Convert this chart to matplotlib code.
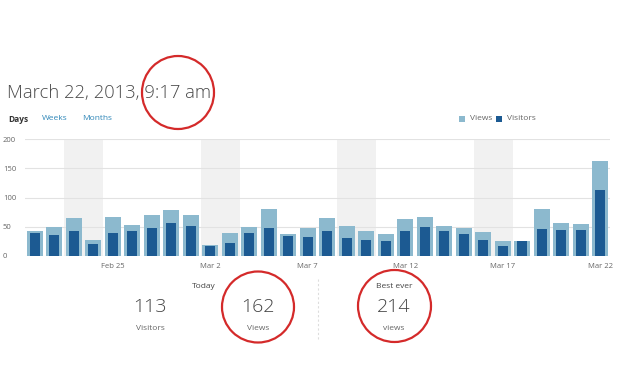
import matplotlib
matplotlib.use("Agg")
import matplotlib.pyplot as plt
from matplotlib.patches import Ellipse, Rectangle
import numpy as np

plt.rcParams['font.family'] = ['Open Sans', 'DejaVu Sans']

# Data
days = ["Feb 21", "Feb 22", "Feb 23", "Feb 24", "Feb 25", "Feb 26", "Feb 27", "Feb 28",
        "Mar 1", "Mar 2", "Mar 3", "Mar 4", "Mar 5", "Mar 6", "Mar 7", "Mar 8", "Mar 9",
        "Mar 10", "Mar 11", "Mar 12", "Mar 13", "Mar 14", "Mar 15", "Mar 16", "Mar 17",
        "Mar 18", "Mar 19", "Mar 20", "Mar 21", "Mar 22"]
views = [42, 49, 65, 27, 67, 53, 70, 79, 70, 18, 40, 50, 81, 38, 48, 65, 52, 43, 37, 63,
         66, 52, 48, 41, 25, 26, 81, 56, 55, 162]
visitors = [39, 36, 43, 21, 40, 42, 48, 57, 51, 17, 22, 39, 48, 34, 33, 43, 31, 27, 25, 42,
            50, 42, 37, 28, 17, 25, 47, 44, 44, 113]
weekends = ["Feb 23", "Feb 24", "Mar 2", "Mar 3", "Mar 9", "Mar 10", "Mar 16", "Mar 17"]
tick_labels = ["Feb 25", "Mar 2", "Mar 7", "Mar 12", "Mar 17", "Mar 22"]
y_ticks = [0, 50, 100, 150, 200]

title = "March 22, 2013, 9:17 am"
today_visitors = 113
today_views = 162
best_ever = 214

VIEW_C = "#8cb9ce"
VIS_C = "#1c5a92"
GRAY = "#666666"
LINK = "#2e86b8"

W, H = 624, 390
fig = plt.figure(figsize=(W / 100, H / 100), dpi=100)

ax = fig.add_axes([25 / W, (H - 256) / H, 585 / W, 117 / H])
x = np.arange(len(days))
for d in weekends:
    i = days.index(d)
    ax.axvspan(i - 0.5, i + 0.5, color="#f1f1f1", lw=0, zorder=0)
for yv in y_ticks:
    ax.axhline(yv, color="#e2e2e2", lw=0.8, zorder=0.5)
ax.bar(x, views, width=0.82, color=VIEW_C, zorder=2)
ax.bar(x, visitors, width=0.5, color=VIS_C, zorder=3)
ax.set_xlim(-0.5, len(days) - 0.5)
ax.set_ylim(0, 200)
ax.set_yticks(y_ticks)
ax.set_yticklabels([str(v) for v in y_ticks])
ax.set_xticks([days.index(t) for t in tick_labels])
ax.set_xticklabels(tick_labels)
ax.tick_params(axis='both', length=0, labelsize=5.5, colors=GRAY)
ax.tick_params(axis='y', pad=16)
ax.tick_params(axis='x', pad=5)
for lab in ax.get_yticklabels():
    lab.set_horizontalalignment('left')
for s in ax.spines.values():
    s.set_visible(False)

# overlay in pixel coordinates
ov = fig.add_axes([0, 0, 1, 1], zorder=10)
ov.set_xlim(0, W)
ov.set_ylim(H, 0)
ov.axis('off')
ov.patch.set_alpha(0)

ov.text(7, 93, title, fontsize=13.2, color="#4a4a4a", va='center', ha='left', fontweight='light')
ov.text(8, 119, "Days", fontsize=6, color="#333333", fontweight='bold', va='center')
ov.text(42, 119, "Weeks", fontsize=6, color=LINK, va='center')
ov.text(82, 119, "Months", fontsize=6, color=LINK, va='center')

ov.add_patch(Rectangle((459, 115.5), 6, 6, color=VIEW_C, lw=0))
ov.text(470, 119, "Views", fontsize=6, color=GRAY, va='center')
ov.add_patch(Rectangle((496, 115.5), 6, 6, color=VIS_C, lw=0))
ov.text(507, 119, "Visitors", fontsize=6, color=GRAY, va='center')

# stats
ov.text(204, 286, "Today", fontsize=6, color="#444444", ha='center', va='center')
ov.text(150, 307, str(today_visitors), fontsize=14, color="#444444", ha='center', va='center', fontweight='light')
ov.text(150, 328, "Visitors", fontsize=6, color=GRAY, ha='center', va='center')
ov.text(258, 307, str(today_views), fontsize=14, color="#444444", ha='center', va='center', fontweight='light')
ov.text(258, 328, "Views", fontsize=6, color=GRAY, ha='center', va='center')
ov.plot([318, 318], [279, 340], color="#dddddd", lw=0.8, ls=(0, (2, 2)))
ov.text(394, 286, "Best ever", fontsize=6, color="#444444", ha='center', va='center')
ov.text(394, 307, str(best_ever), fontsize=14, color="#444444", ha='center', va='center', fontweight='light')
ov.text(394, 328, "views", fontsize=6, color=GRAY, ha='center', va='center')

# red circles
for cx, cy, rx, ry in [(178, 92.5, 36, 36.5), (258, 307, 36, 35.5), (394.5, 306, 36.5, 36)]:
    ov.add_patch(Ellipse((cx, cy), 2 * rx, 2 * ry, fill=False, ec="#d42a2a", lw=1.6))

fig.savefig("out.png", dpi=100)
